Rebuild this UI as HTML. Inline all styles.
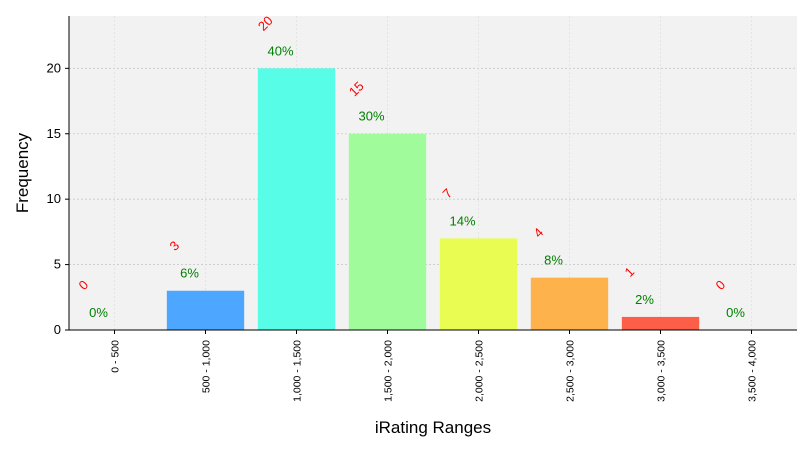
<!DOCTYPE html>
<html><head><meta charset="utf-8"><style>
body{margin:0;background:#fff;font-family:"Liberation Sans",sans-serif}
</style></head><body>
<svg id="chart" width="810" height="450" xmlns="http://www.w3.org/2000/svg"></svg>
<script>
const categories=["0 - 500","500 - 1,000","1,000 - 1,500","1,500 - 2,000","2,000 - 2,500","2,500 - 3,000","3,000 - 3,500","3,500 - 4,000"];
const counts=[0,3,20,15,7,4,1,0];
const percents=["0%","6%","40%","30%","14%","8%","2%","0%"];
const colors=["#4da6ff","#4da6ff","#57fde6","#a0fc9a","#e8fc52","#fdb24b","#fd5e48","#fd5e48"];
const yTicks=[0,5,10,15,20];
const NS="http://www.w3.org/2000/svg";
const svg=document.getElementById('chart');
const L=69,R=797,T=16,B=330,yMax=24;
const x=i=>L+(i+0.5)*(R-L)/categories.length;
const y=v=>B-v*(B-T)/yMax;
const bw=(R-L)/categories.length*0.85;
function mk(tag,attrs,txt){const e=document.createElementNS(NS,tag);for(const k in attrs)e.setAttribute(k,attrs[k]);if(txt!==undefined)e.textContent=txt;svg.appendChild(e);return e;}
let bg=mk('rect',{x:L,y:T,width:R-L,height:B-T,fill:'#f2f2f2'});


yTicks.forEach(t=>{
 let g=mk('line',{x1:L,x2:R,y1:y(t),y2:y(t),stroke:'#c8c8c8','stroke-dasharray':'2,2','stroke-width':0.8});
 
 
 let tk=mk('line',{x1:L-4,x2:L,y1:y(t),y2:y(t),stroke:'#000'});
 
 
 let lb=mk('text',{x:L-8,y:y(t)+4,'text-anchor':'end','font-size':13,fill:'#000'},t);
 
 
});
categories.forEach((c,i)=>{
 let g=mk('line',{x1:x(i),x2:x(i),y1:T,y2:B,stroke:'#e0e0e0','stroke-dasharray':'2,2','stroke-width':0.8});
 
 
 let b=mk('rect',{x:x(i)-bw/2,y:y(counts[i]),width:bw,height:B-y(counts[i]),fill:colors[i]});
 
 
 let tk=mk('line',{x1:x(i),x2:x(i),y1:B,y2:B+4,stroke:'#000'});
 
 
 let lb=mk('text',{x:0,y:0,'text-anchor':'end','font-size':10.5,fill:'#000',transform:`translate(${x(i)+4},${B+10}) rotate(-90)`},c);
 
 
 let cy=y(counts[i]+3.5);
 let cl=mk('text',{x:0,y:0,'text-anchor':'middle','font-size':13,fill:'red',transform:`translate(${x(i)-28},${cy+4}) rotate(-45)`},counts[i]);
 
 
 let pl=mk('text',{x:x(i)-16,y:y(counts[i]+1.3)+4,'text-anchor':'middle','font-size':13,fill:'green'},percents[i]);
 
 
});
let ax=mk('path',{d:`M${L},${T}V${B}H${R}`,fill:'none',stroke:'#000','stroke-width':1});


let yt=mk('text',{x:0,y:0,'text-anchor':'middle','font-size':17,transform:`translate(28,${(T+B)/2}) rotate(-90)`},'Frequency');


let xt=mk('text',{x:(L+R)/2,y:433,'text-anchor':'middle','font-size':17},'iRating Ranges');


</script>
</body></html>
